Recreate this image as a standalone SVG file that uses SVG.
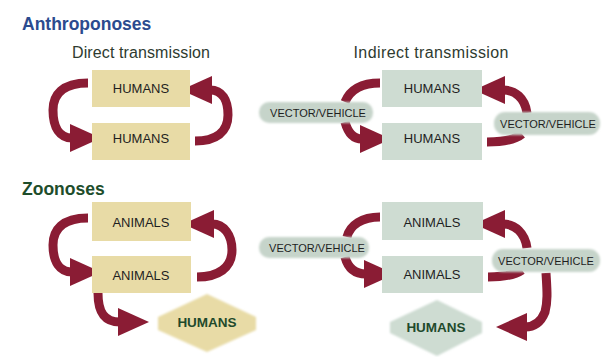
<svg xmlns="http://www.w3.org/2000/svg" width="602" height="357" viewBox="0 0 602 357">
<defs>
<style>
.title{font-family:"Liberation Sans",Arial,sans-serif;font-weight:bold;font-size:17.5px}
.sub{font-family:"Liberation Sans",Arial,sans-serif;font-size:16px;fill:#2e3b30}
.lbl{font-family:"Liberation Sans",Arial,sans-serif;font-size:13px;fill:#1e1e1e;text-anchor:middle}
.vv{font-family:"Liberation Sans",Arial,sans-serif;font-size:11px;fill:#1e1e1e;text-anchor:middle}
.hb{font-family:"Liberation Sans",Arial,sans-serif;font-size:13.5px;font-weight:bold;fill:#1f4a2c;text-anchor:middle}
.tan{fill:#e8dba6}
.grn{fill:#cedcd2}
.blob{fill:#c6d4ca;filter:url(#soft)}
.arr{fill:none;stroke:#8a1c34;stroke-width:9}
.arrh{fill:none;stroke:#8a1c34;stroke-width:9;marker-end:url(#head)}
</style>
<filter id="soft" x="-10%" y="-30%" width="120%" height="160%"><feGaussianBlur stdDeviation="1.3"/></filter>
<marker id="head" markerUnits="userSpaceOnUse" markerWidth="31" markerHeight="28" viewBox="0 0 31 28" refX="2" refY="14" orient="auto">
<path d="M0,0 L31,14 L0,28 z" fill="#8a1c34"/>
</marker>
</defs>
<rect width="602" height="357" fill="#ffffff"/>

<text class="title" x="22" y="30" fill="#2b4b8f">Anthroponoses</text>
<text class="sub" x="141" y="58" text-anchor="middle" textLength="138">Direct transmission</text>
<text class="sub" x="431" y="58" text-anchor="middle" textLength="155">Indirect transmission</text>
<text class="title" x="22" y="195" fill="#1e4d2b">Zoonoses</text>

<g id="connectors">
<path class="arrh" d="M88,83 C62,83 53,95 53,110 C53,128 60,138 72,138"/>
<path class="arrh" d="M195,141 C216,141 228,132 228,115 C228,100 222,90 210,90"/>
<path class="arr" d="M380,83 C362,83 350,90 345,102"/>
<path class="arrh" d="M345,122 C348,133 354,139 362,139"/>
<path class="arr" d="M487,142 C500,142 515,140 522,134"/>
<path class="arrh" d="M527,113 C525,98 515,90 503,90"/>

<path class="arrh" d="M88,218 C62,218 53,230 53,245 C53,262 60,272 72,272"/>
<path class="arrh" d="M197,277 C218,277 232,268 232,250 C232,235 224,224 212,224"/>
<path class="arrh" d="M98,293 C98,312 104,322 120,322"/>
<path class="arr" d="M380,217 C362,217 350,225 347,237"/>
<path class="arrh" d="M345,257 C348,268 355,274 366,274"/>
<path class="arr" d="M488,277 C502,277 515,275 522,270"/>
<path class="arrh" d="M527,248 C525,233 515,224 503,224"/>
<path class="arrh" d="M546,273 C547,290 548,300 545,312 C541,322 535,327 525,327"/>
</g>

<g id="d-humans-top"><rect class="tan" x="92" y="70" width="98" height="37"/><text class="lbl" x="141" y="93">HUMANS</text></g>
<g id="d-humans-bottom"><rect class="tan" x="92" y="123" width="98" height="37"/><text class="lbl" x="141" y="143">HUMANS</text></g>

<g id="i-humans-top"><rect class="grn" x="382" y="70" width="100" height="37"/><text class="lbl" x="432" y="93">HUMANS</text></g>
<g id="i-humans-bottom"><rect class="grn" x="382" y="123" width="100" height="37"/><text class="lbl" x="432" y="143">HUMANS</text></g>
<g id="i-vector-left"><rect class="blob" x="259" y="102" width="114" height="21" rx="10"/><text class="vv" x="318" y="117">VECTOR/VEHICLE</text></g>
<g id="i-vector-right"><rect class="blob" x="494" y="112" width="106" height="23" rx="11"/><text class="vv" x="548" y="128">VECTOR/VEHICLE</text></g>

<g id="z-animals-top"><rect class="tan" x="92" y="202" width="99" height="39"/><text class="lbl" x="141" y="227">ANIMALS</text></g>
<g id="z-animals-bottom"><rect class="tan" x="92" y="256" width="99" height="37"/><text class="lbl" x="141" y="280">ANIMALS</text></g>
<g id="z-humans"><polygon class="tan" style="filter:url(#soft)" points="158,317 207,294 256,317 256,330 207,352 158,330"/><text class="hb" x="207" y="327">HUMANS</text></g>

<g id="zi-animals-top"><rect class="grn" x="382" y="202" width="101" height="38"/><text class="lbl" x="432" y="227">ANIMALS</text></g>
<g id="zi-animals-bottom"><rect class="grn" x="382" y="256" width="101" height="37"/><text class="lbl" x="432" y="279">ANIMALS</text></g>
<g id="zi-vector-left"><rect class="blob" x="259" y="237" width="110" height="21" rx="10"/><text class="vv" x="317" y="252">VECTOR/VEHICLE</text></g>
<g id="zi-vector-right"><rect class="blob" x="492" y="249" width="108" height="23" rx="11"/><text class="vv" x="546" y="265">VECTOR/VEHICLE</text></g>
<g id="zi-humans"><polygon class="grn" style="filter:url(#soft)" points="390,322 437,300 482,322 482,333 437,356 390,333"/><text class="hb" x="436" y="332">HUMANS</text></g>
</svg>
